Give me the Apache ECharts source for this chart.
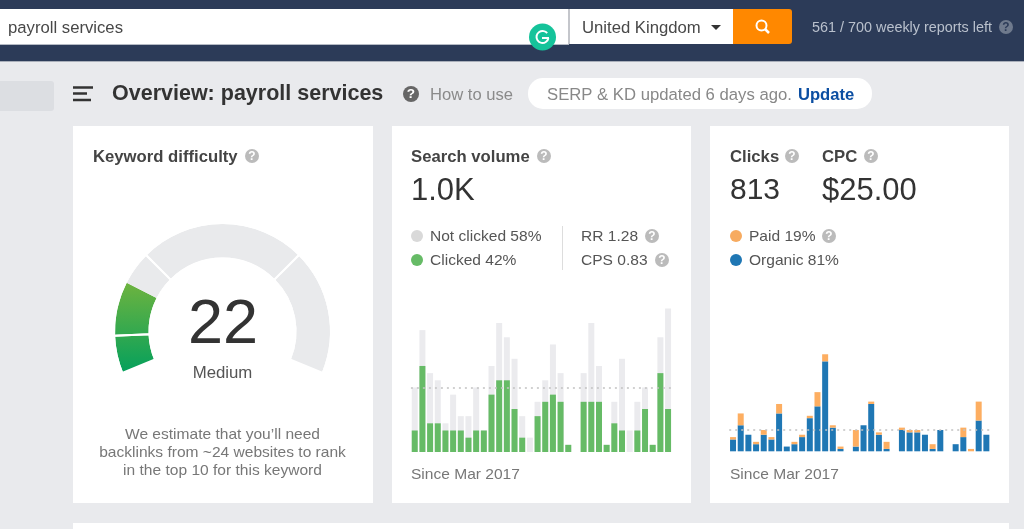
<!DOCTYPE html>
<html>
<head>
<meta charset="utf-8">
<title>Overview: payroll services</title>
<style>
	html, body { margin: 0; padding: 0; background: #e9eaed; overflow: hidden; }
	#main { width: 1024px; height: 529px; }
</style>
<script src="https://cdn.jsdelivr.net/npm/echarts@6/dist/echarts.min.js"></script>
</head>
<body>
<div id="main"></div>
<script>
const clicked = [3, 12, 4, 4, 3, 3, 3, 2, 3, 3, 8, 10, 10, 6, 2, 0, 5, 7, 8, 7, 1, 0, 7, 7, 7, 1, 4, 3, 0, 3, 6, 1, 11, 6];
const searches = [9, 17, 11, 10, 4, 8, 5, 5, 9, 3, 12, 18, 16, 13, 5, 2, 7, 10, 15, 11, 1, 0, 11, 18, 12, 1, 7, 13, 3, 7, 9, 1, 16, 20];
const organic = [5, 11, 7, 3, 7, 5, 16, 2, 3, 6, 14, 19, 38, 10, 1, 0, 2, 11, 20, 7, 1, 0, 9, 8, 8, 7, 1, 9, 0, 3, 6, 0, 13, 7];
const paid = [1, 5, 0, 1, 2, 1, 4, 0, 1, 1, 1, 6, 3, 1, 1, 0, 7, 0, 1, 1, 3, 0, 1, 1, 1, 0, 2, 0, 0, 0, 4, 1, 8, 0];
const months = clicked.map((v, i) => i);
const searchAverage = 9;
const clicksAverage = 9;
const gaugeFill = [9, 13, 8, 40, 30];
const gaugeBands = [9, 21, 40, 30];

const font = '"Liberation Sans", Arial, sans-serif';
const chart = echarts.init(document.getElementById('main'));

const label = (x, y, text, size, color, weight, align) => ({
	type: 'text',
	x,
	y: y + 1,
	style: {
		text,
		fill: color,
		font: `${weight || 'normal'} ${size}px ${font}`,
		textAlign: align || 'left',
		textVerticalAlign: 'middle'
	}
});
const box = (x, y, width, height, fill, r) => ({
	type: 'rect',
	shape: { x, y, width, height, r: r || 0 },
	style: { fill }
});
const dot = (cx, cy, r, fill) => ({ type: 'circle', shape: { cx, cy, r }, style: { fill } });
const help = (cx, cy, r, fill, mark) => [
	dot(cx, cy, r, fill),
	label(cx, cy - 0.5, '?', r * 1.7, mark || '#fff', 'bold', 'center')
];
const stroke = (x1, y1, x2, y2, color, lineWidth) => ({
	type: 'line',
	shape: { x1, y1, x2, y2 },
	style: { stroke: color, lineWidth }
});

const elements = [
	// top bar
	box(0, 0, 1024, 61, '#2c3b58'),
	box(0, 61, 1024, 1, '#a9afba'),
	box(0, 9, 569, 35, '#fff'),
	box(0, 44, 569, 1, '#b5bac4'),
	label(8, 27, 'payroll services', 16.7, '#484848'),
	box(569, 9, 164, 35, '#fff'),
	box(568, 9, 2, 35, '#c4c6cb'),
	label(582, 27, 'United Kingdom', 16.7, '#484848'),
	{ type: 'polygon', shape: { points: [[711, 25], [721, 25], [716, 30]] }, style: { fill: '#333' } },
	box(733, 9, 59, 35, '#ff8800', [0, 3, 3, 0]),
	{ type: 'circle', shape: { cx: 761.5, cy: 25.5, r: 5 }, style: { fill: 'none', stroke: '#fff', lineWidth: 2 } },
	stroke(765, 29, 769, 33, '#fff', 2.5),
	label(812, 27, '561 / 700 weekly reports left', 14.4, '#b9c0cc'),
	...help(1006, 27, 7, '#6f7a8d', '#2c3b58'),
	dot(542.5, 37, 13.5, '#15c39a'),
	{ type: 'arc', shape: { cx: 542.5, cy: 37, r: 6, startAngle: 0.2, endAngle: 5.6, clockwise: true }, style: { fill: 'none', stroke: '#fff', lineWidth: 2 } },
	stroke(542, 38, 549, 38, '#fff', 2),

	// page header
	box(0, 81, 54, 30, '#dcdee2', [0, 3, 3, 0]),
	stroke(73, 87.5, 93, 87.5, '#333', 2.5),
	stroke(73, 93.5, 87, 93.5, '#333', 2.5),
	stroke(73, 100, 91, 100, '#333', 2.5),
	label(112, 93, 'Overview: payroll services', 21.5, '#333', 'bold'),
	...help(411, 94, 8, '#666'),
	label(430, 94, 'How to use', 16.6, '#8a8a8a'),
	box(528, 78, 344, 31, '#fff', 15),
	label(547, 94, 'SERP & KD updated 6 days ago.', 16.7, '#888'),
	label(798, 94, 'Update', 16.6, '#0b4ea2', 'bold'),

	// cards
	box(73, 126, 300, 377, '#fff'),
	box(392, 126, 299, 377, '#fff'),
	box(710, 126, 299, 377, '#fff'),
	box(73, 523, 936, 6, '#fff'),

	// keyword difficulty
	label(93, 156, 'Keyword difficulty', 16.7, '#444', 'bold'),
	...help(252, 156, 7, '#bbb'),
	label(223, 325, '22', 63, '#333', 'normal', 'center'),
	label(222.5, 372, 'Medium', 16.8, '#555', 'normal', 'center'),
	label(222.5, 434, 'We estimate that you\u2019ll need', 15.55, '#777', 'normal', 'center'),
	label(222.5, 452, 'backlinks from ~24 websites to rank', 15.55, '#777', 'normal', 'center'),
	label(222.5, 470, 'in the top 10 for this keyword', 15.55, '#777', 'normal', 'center'),

	// search volume
	label(411, 156, 'Search volume', 16.7, '#444', 'bold'),
	...help(544, 156, 7, '#bbb'),
	label(411, 190, '1.0K', 31, '#333'),
	dot(417, 236, 6, '#d9d9d9'),
	label(430, 236, 'Not clicked 58%', 15.55, '#555'),
	dot(417, 260, 6, '#66bb66'),
	label(430, 260, 'Clicked 42%', 15.55, '#555'),
	box(562, 226, 1, 44, '#ddd'),
	label(581, 236, 'RR 1.28', 15.55, '#555'),
	...help(652, 236, 7, '#bbb'),
	label(581, 260, 'CPS 0.83', 15.55, '#555'),
	...help(662, 260, 7, '#bbb'),
	label(411, 474, 'Since Mar 2017', 15.55, '#777'),

	// clicks
	label(730, 156, 'Clicks', 16.7, '#444', 'bold'),
	...help(792, 156, 7, '#bbb'),
	label(822, 156, 'CPC', 16.7, '#444', 'bold'),
	...help(871, 156, 7, '#bbb'),
	label(730, 190, '813', 30, '#333'),
	label(822, 190, '$25.00', 31, '#333'),
	dot(736, 236, 6, '#f7ab60'),
	label(749, 236, 'Paid 19%', 15.55, '#555'),
	...help(829, 236, 7, '#bbb'),
	dot(736, 260, 6, '#1f77b4'),
	label(749, 260, 'Organic 81%', 15.55, '#555'),
	label(730, 474, 'Since Mar 2017', 15.55, '#777')
];

const gaugeGreen = (from, to) => new echarts.graphic.LinearGradient(0, from, 0, to, [
	{ offset: 0, color: '#6db33f' },
	{ offset: 1, color: '#04a05c' }
], true);
const averageLine = (value) => ({
	symbol: 'none',
	silent: true,
	animation: false,
	label: { show: false },
	lineStyle: { type: [2, 4], color: '#c2c2c2', width: 1.5 },
	data: [{ yAxis: value }]
});

const option = {
	animation: false,
	graphic: { elements },
	grid: [
		{ left: 410.9, top: 308.6, width: 261, height: 143.4 },
		{ left: 729.2, top: 351.9, width: 261, height: 99.4 }
	],
	xAxis: [
		{ type: 'category', gridIndex: 0, data: months, show: false },
		{ type: 'category', gridIndex: 1, data: months, show: false }
	],
	yAxis: [
		{ type: 'value', gridIndex: 0, min: 0, max: 20, show: false },
		{ type: 'value', gridIndex: 1, min: 0, max: 42, show: false }
	],
	series: [
		{
			type: 'pie',
			center: [222.5, 331.5],
			radius: [74, 107.5],
			startAngle: 202.5,
			endAngle: -22.5,
			silent: true,
			label: { show: false },
			labelLine: { show: false },
			data: gaugeFill.map((value, i) => ({
				value,
				itemStyle: { color: i < 2 ? gaugeGreen(283, 373) : '#e9eaec' }
			}))
		},
		{
			type: 'pie',
			center: [222.5, 331.5],
			radius: [73, 108.5],
			startAngle: 202.5,
			endAngle: -22.5,
			silent: true,
			label: { show: false },
			labelLine: { show: false },
			itemStyle: { color: 'transparent', borderColor: '#fff', borderWidth: 2 },
			data: gaugeBands
		},
		{
			name: 'Not clicked',
			type: 'bar',
			xAxisIndex: 0,
			yAxisIndex: 0,
			barWidth: 6,
			barGap: '-100%',
			itemStyle: { color: '#ebebee' },
			data: searches,
			markLine: averageLine(searchAverage),
			z: 2
		},
		{
			name: 'Clicked',
			type: 'bar',
			xAxisIndex: 0,
			yAxisIndex: 0,
			barWidth: 6,
			barGap: '-100%',
			itemStyle: { color: '#66bb66' },
			data: clicked,
			z: 3
		},
		{
			name: 'Organic',
			type: 'bar',
			stack: 'clicks',
			xAxisIndex: 1,
			yAxisIndex: 1,
			barWidth: 6,
			itemStyle: { color: '#1f77b4' },
			data: organic,
			markLine: averageLine(clicksAverage)
		},
		{
			name: 'Paid',
			type: 'bar',
			stack: 'clicks',
			xAxisIndex: 1,
			yAxisIndex: 1,
			barWidth: 6,
			itemStyle: { color: '#fdae61' },
			data: paid
		}
	]
};

chart.setOption(option);
</script>
</body>
</html>
